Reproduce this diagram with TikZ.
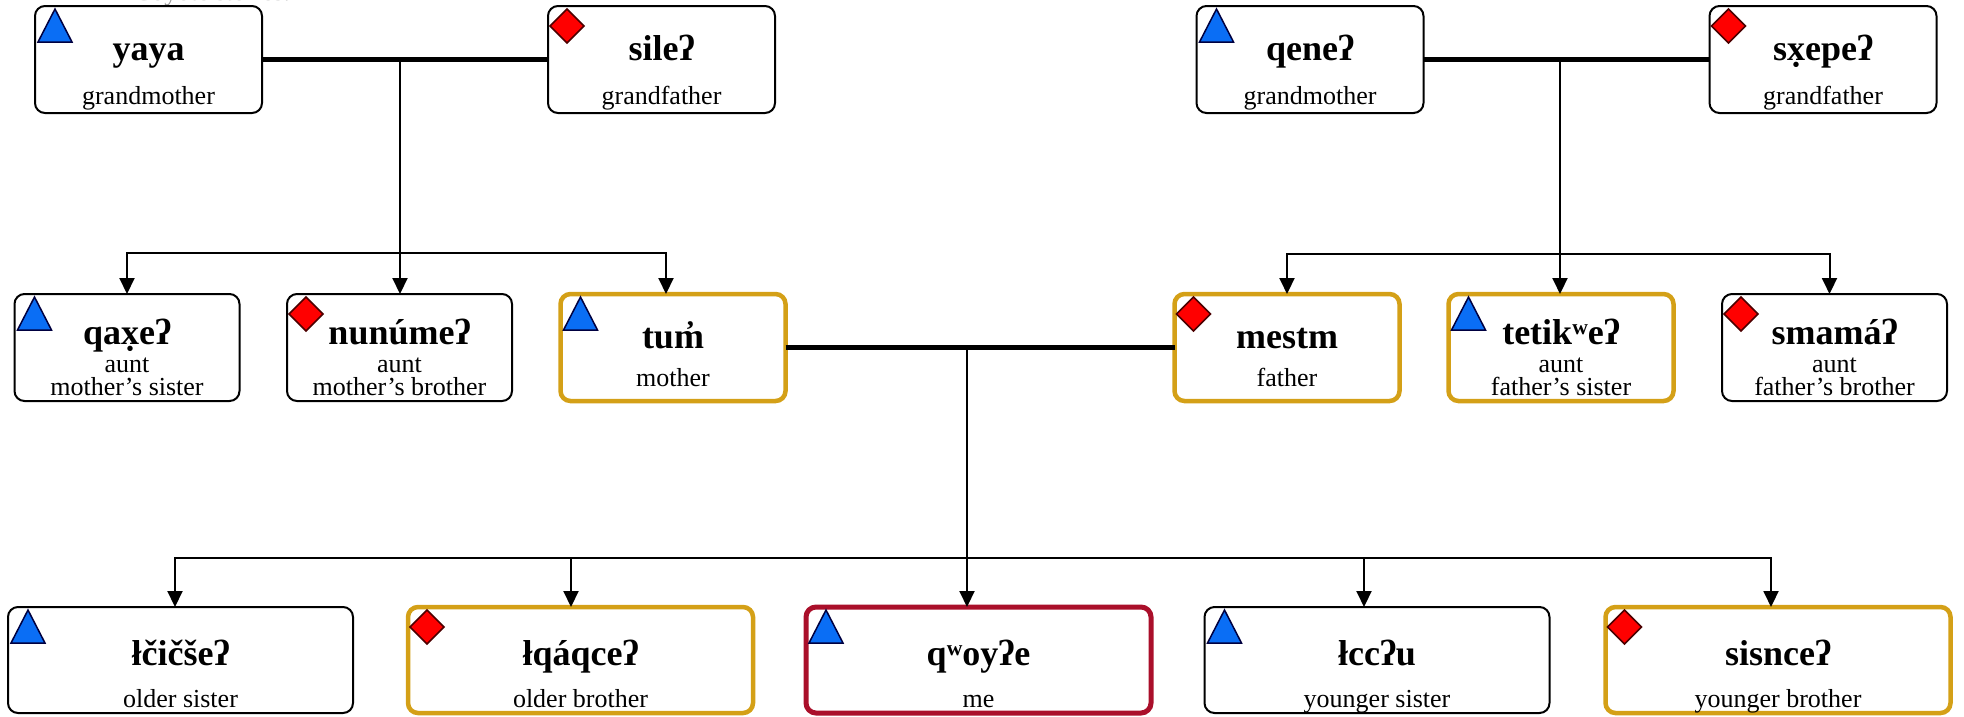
\documentclass[tikz,border=0pt]{standalone}
\usepackage{fontspec}
\setmainfont{Liberation Serif}
\usetikzlibrary{arrows.meta,calc}
\definecolor{gold}{RGB}{212,160,23}
\definecolor{crim}{RGB}{170,15,42}
\definecolor{tblue}{RGB}{10,110,245}
\definecolor{dred}{RGB}{255,0,0}
\definecolor{capgray}{RGB}{150,150,150}
\tikzset{
  kbox/.style={draw=black, line width=2pt, rounded corners=10pt, inner sep=0pt, outer sep=0pt, fill=white},
  rowA/.style={minimum width=227pt, minimum height=107pt},
  rowB/.style={minimum width=225pt, minimum height=107pt},
  rowC/.style={minimum width=345pt, minimum height=106pt},
  goldbox/.style={draw=gold, line width=4.5pt},
  mebox/.style={draw=crim, line width=5pt},
  nm/.style={font=\fontsize{36pt}{40pt}\selectfont\bfseries, anchor=base, inner sep=0pt},
  lb/.style={font=\fontsize{26pt}{28pt}\selectfont, anchor=base, inner sep=0pt},
  marr/.style={line width=5pt},
  kinline/.style={line width=2pt},
  kin/.style={line width=2pt, -{Triangle[length=16pt,width=15pt]}},
  trisym/.style={fill=tblue, draw=black!75!blue, line width=1.5pt, line join=miter},
  diasym/.style={fill=dred, draw=black!70!red, line width=1.5pt, line join=miter},
}
\newcommand\tri[1]{\draw[trisym] ([shift={(3,36)}]#1.north west) -- ([shift={(20,3)}]#1.north west) -- ([shift={(37,36)}]#1.north west) -- cycle;}
\newcommand\dia[1]{\draw[diasym] ([shift={(2,20)}]#1.north west) -- ([shift={(19,3)}]#1.north west) -- ([shift={(36,20)}]#1.north west) -- ([shift={(19,37)}]#1.north west) -- cycle;}
\begin{document}
\begin{tikzpicture}[x=1pt, y=-1pt]
\useasboundingbox (0,0) rectangle (1964,716);
% caption, mostly cut off by the top edge (as in the reference)
\node[lb, text=capgray] (cap) at (212,0.5) {Coyote stories.};
% ---- row 1: grandparents
\node[kbox, rowA] (yaya) at (148.5,59.5) {};
\node[kbox, rowA] (sile) at (661.5,59.5) {};
\node[kbox, rowA] (qene) at (1310,59.5) {};
\node[kbox, rowA] (sxepe) at (1823,59.5) {};
% ---- row 2
\node[kbox, rowB] (qaxe) at (127,347.5) {};
\node[kbox, rowB] (nunume) at (399.5,347.5) {};
\node[kbox, rowB, goldbox] (tum) at (673,347.5) {};
\node[kbox, rowB, goldbox] (mestm) at (1287,347.5) {};
\node[kbox, rowB, goldbox] (tetikwe) at (1561,347.5) {};
\node[kbox, rowB] (smama) at (1834.5,347.5) {};
% ---- row 3
\node[kbox, rowC] (osis) at (180.5,660) {};
\node[kbox, rowC, goldbox] (obro) at (580.5,660) {};
\node[kbox, rowC, mebox] (me) at (978.5,660) {};
\node[kbox, rowC] (ysis) at (1377,660) {};
\node[kbox, rowC, goldbox] (ybro) at (1778,660) {};
% ---- texts row 1
\node[nm] (yaya-n) at ($(yaya)+(0,0.5)$) {yaya};
\node[lb] (yaya-l) at ($(yaya)+(0,44.5)$) {grandmother};
\node[nm] (sile-n) at ($(sile)+(0,0.5)$) {sileʔ};
\node[lb] (sile-l) at ($(sile)+(0,44.5)$) {grandfather};
\node[nm] (qene-n) at ($(qene)+(0,0.5)$) {qeneʔ};
\node[lb] (qene-l) at ($(qene)+(0,44.5)$) {grandmother};
\node[nm] (sxepe-n) at ($(sxepe)+(0,0.5)$) {sx̣epeʔ};
\node[lb] (sxepe-l) at ($(sxepe)+(0,44.5)$) {grandfather};
% ---- texts row 2
\node[nm] (qaxe-n) at ($(qaxe)+(0,-3.5)$) {qax̣eʔ};
\node[lb] (qaxe-a) at ($(qaxe)+(0,25)$) {aunt};
\node[lb] (qaxe-l) at ($(qaxe)+(0,47.5)$) {mother’s sister};
\node[nm] (nunume-n) at ($(nunume)+(0,-3.5)$) {nunúmeʔ};
\node[lb] (nunume-a) at ($(nunume)+(0,25)$) {aunt};
\node[lb] (nunume-l) at ($(nunume)+(0,47.5)$) {mother’s brother};
\node[nm] (tum-n) at ($(tum)+(0,0.5)$) {tum̓};
\node[lb] (tum-l) at ($(tum)+(0,38.5)$) {mother};
\node[nm] (mestm-n) at ($(mestm)+(0,0.5)$) {mestm};
\node[lb] (mestm-l) at ($(mestm)+(0,38.5)$) {father};
\node[nm] (tetikwe-n) at ($(tetikwe)+(0,-3.5)$) {tetikʷeʔ};
\node[lb] (tetikwe-a) at ($(tetikwe)+(0,25)$) {aunt};
\node[lb] (tetikwe-l) at ($(tetikwe)+(0,47.5)$) {father’s sister};
\node[nm] (smama-n) at ($(smama)+(0,-3.5)$) {smamáʔ};
\node[lb] (smama-a) at ($(smama)+(0,25)$) {aunt};
\node[lb] (smama-l) at ($(smama)+(0,47.5)$) {father’s brother};
% ---- texts row 3
\node[nm] (osis-n) at ($(osis)+(0,5)$) {łčičšeʔ};
\node[lb] (osis-l) at ($(osis)+(0,47)$) {older sister};
\node[nm] (obro-n) at ($(obro)+(0,5)$) {łqáqceʔ};
\node[lb] (obro-l) at ($(obro)+(0,47)$) {older brother};
\node[nm] (me-n) at ($(me)+(0,5)$) {qʷoyʔe};
\node[lb] (me-l) at ($(me)+(0,47)$) {me};
\node[nm] (ysis-n) at ($(ysis)+(0,5)$) {łccʔu};
\node[lb] (ysis-l) at ($(ysis)+(0,47)$) {younger sister};
\node[nm] (ybro-n) at ($(ybro)+(0,5)$) {sisnceʔ};
\node[lb] (ybro-l) at ($(ybro)+(0,47)$) {younger brother};
% ---- gender symbols
\tri{yaya} \dia{sile} \tri{qene} \dia{sxepe}
\tri{qaxe} \dia{nunume} \tri{tum} \dia{mestm} \tri{tetikwe} \dia{smama}
\tri{osis} \dia{obro} \tri{me} \tri{ysis} \dia{ybro}
% ---- connectors, mother's side
\draw[marr] (yaya.east) -- (sile.west);
\coordinate (m1) at (400,60);
\coordinate (b1) at (400,253);
\draw[kinline] (m1) -- (b1);
\draw[kin] (b1) -| (qaxe.north);
\draw[kin] (b1) -- (b1 |- nunume.north);
\draw[kin] (b1) -| ([xshift=-7pt]tum.north);
% ---- father's side
\draw[marr] (qene.east) -- (sxepe.west);
\coordinate (m2) at (1560,60);
\coordinate (b2) at (1560,254);
\draw[kinline] (m2) -- (b2);
\draw[kin] (b2) -| (mestm.north);
\draw[kin] (b2) -- (b2 |- tetikwe.north);
\draw[kin] (b2) -| ([xshift=-5pt]smama.north);
% ---- parents and children
\draw[marr] (tum.east) -- (mestm.west);
\coordinate (m3) at (967,347.5);
\coordinate (b3) at (967,558);
\draw[kinline] (m3) -- (b3);
\draw[kin] (b3) -| ([xshift=-5.5pt]osis.north);
\draw[kin] (b3) -| ([xshift=-9.5pt]obro.north);
\draw[kin] (b3) -- (b3 |- me.north);
\draw[kin] (b3) -| ([xshift=-13pt]ysis.north);
\draw[kin] (b3) -| ([xshift=-7pt]ybro.north);
\end{tikzpicture}
\end{document}
